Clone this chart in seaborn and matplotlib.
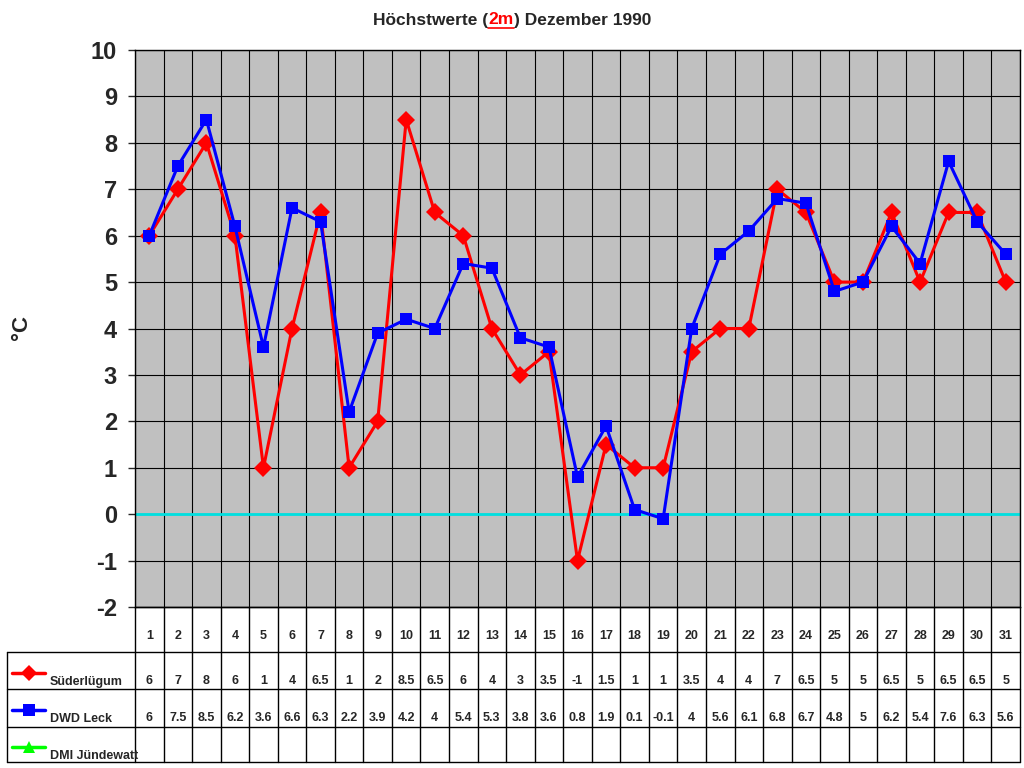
import matplotlib
matplotlib.use("Agg")
import matplotlib.pyplot as plt
import seaborn as sns
import pandas as pd

sns.set_theme(style="white")
plt.rcParams['font.family'] = ['Liberation Sans', 'DejaVu Sans']
plt.rcParams['axes.unicode_minus'] = False

days = list(range(1, 32))
suederluegum = [6, 7, 8, 6, 1, 4, 6.5, 1, 2, 8.5, 6.5, 6, 4, 3, 3.5, -1, 1.5, 1, 1, 3.5, 4, 4, 7, 6.5, 5, 5, 6.5, 5, 6.5, 6.5, 5]
dwd_leck = [6, 7.5, 8.5, 6.2, 3.6, 6.6, 6.3, 2.2, 3.9, 4.2, 4, 5.4, 5.3, 3.8, 3.6, 0.8, 1.9, 0.1, -0.1, 4, 5.6, 6.1, 6.8, 6.7, 4.8, 5, 6.2, 5.4, 7.6, 6.3, 5.6]
series_names = ["Süderlügum", "DWD Leck", "DMI Jündewatt"]
colors = ["#ff0000", "#0000ff", "#00ff00"]
markers = ["D", "s", "^"]

W, H = 1024, 768
fig = plt.figure(figsize=(W/100, H/100), dpi=100)
L, R, T, B = 135, 1020, 50, 607
ax = fig.add_axes([L/W, 1-B/H, (R-L)/W, (B-T)/H])
ax.set_facecolor("#c0c0c0")

df = pd.DataFrame({"day": days * 2,
                   "val": suederluegum + dwd_leck,
                   "s": [series_names[0]]*31 + [series_names[1]]*31})
sns.lineplot(data=df, x="day", y="val", hue="s", style="s",
             palette=colors[:2], markers=markers[:2], dashes=False,
             markersize=9, linewidth=2.2, markeredgewidth=0, ax=ax, legend=False, zorder=5)
ax.set_xlim(0.5, 31.5)
ax.set_ylim(-2, 10)
ax.set_yticks(range(-2, 11))
for y in range(-2, 11):
    ax.axhline(y, color="black", lw=0.8, zorder=1)
for x in range(0, 32):
    ax.axvline(x + 0.5, color="black", lw=0.8, zorder=1)
ax.axhline(0, color="#00e0e0", lw=2, zorder=2)
ax.set_xticks([])
ax.set_xlabel("")
ax.set_ylabel("")
ax.tick_params(axis="y", labelsize=17, length=5, width=1, left=True, direction="out", pad=8)
for lbl in ax.get_yticklabels():
    lbl.set_fontweight("bold")
for sp in ax.spines.values():
    sp.set_color("black"); sp.set_linewidth(1)
fig.text(22/W, 1-328/H, "°C", rotation=90, ha="center", va="center", fontsize=16, fontweight="bold")

# table
tax = fig.add_axes([0, 0, 1, 1], facecolor="none")
tax.set_xlim(0, W); tax.set_ylim(H, 0); tax.axis("off")
cw = (R - L) / 31
rows = [607, 652, 689, 727, 762]
for i in range(32):
    x = L + i * cw
    tax.plot([x, x], [607, 762], color="black", lw=1)
tax.plot([7, 7], [652, 762], color="black", lw=1)
tax.plot([L, R], [607, 607], color="black", lw=1)
for y in rows[1:]:
    tax.plot([7, R], [y, y], color="black", lw=1)
for i, d in enumerate(days):
    cx = L + (i + 0.5) * cw
    tax.text(cx, 636, str(d), ha="center", va="center", fontsize=9, fontweight="bold")
    for r, vals in enumerate([suederluegum, dwd_leck]):
        v = vals[i]
        s = str(int(v)) if v == int(v) else str(v)
        tax.text(cx, 681 + r * 37, s, ha="center", va="center", fontsize=9, fontweight="bold")
for r in range(3):
    ym = 673 + r * 37
    tax.plot([12, 45], [ym, ym], color=colors[r], lw=2.5)
    tax.plot([28.5], [ym], marker=markers[r], color=colors[r], ms=9 if r else 8, mew=0)
    tax.text(50, ym + 9, series_names[r], ha="left", va="center", fontsize=9, fontweight="bold")

# title
fs = 12.5
t1 = fig.text(0, 0, "Höchstwerte (", fontsize=fs, fontweight="bold")
t2 = fig.text(0, 0, "2m", fontsize=fs, fontweight="bold", color="red")
t3 = fig.text(0, 0, ") Dezember 1990", fontsize=fs, fontweight="bold")
fig.canvas.draw()
rend = fig.canvas.get_renderer()
ws = [t.get_window_extent(rend).width for t in (t1, t2, t3)]
x0 = 512 - sum(ws) / 2
yt = 1 - 20 / H
xs = x0
for t, w in zip((t1, t2, t3), ws):
    t.set_position((xs / W, yt)); t.set_va("center"); xs += w
tax.plot([x0 + ws[0], x0 + ws[0] + ws[1]], [28, 28], color="red", lw=1.2)

fig.savefig("out.png", dpi=100)
